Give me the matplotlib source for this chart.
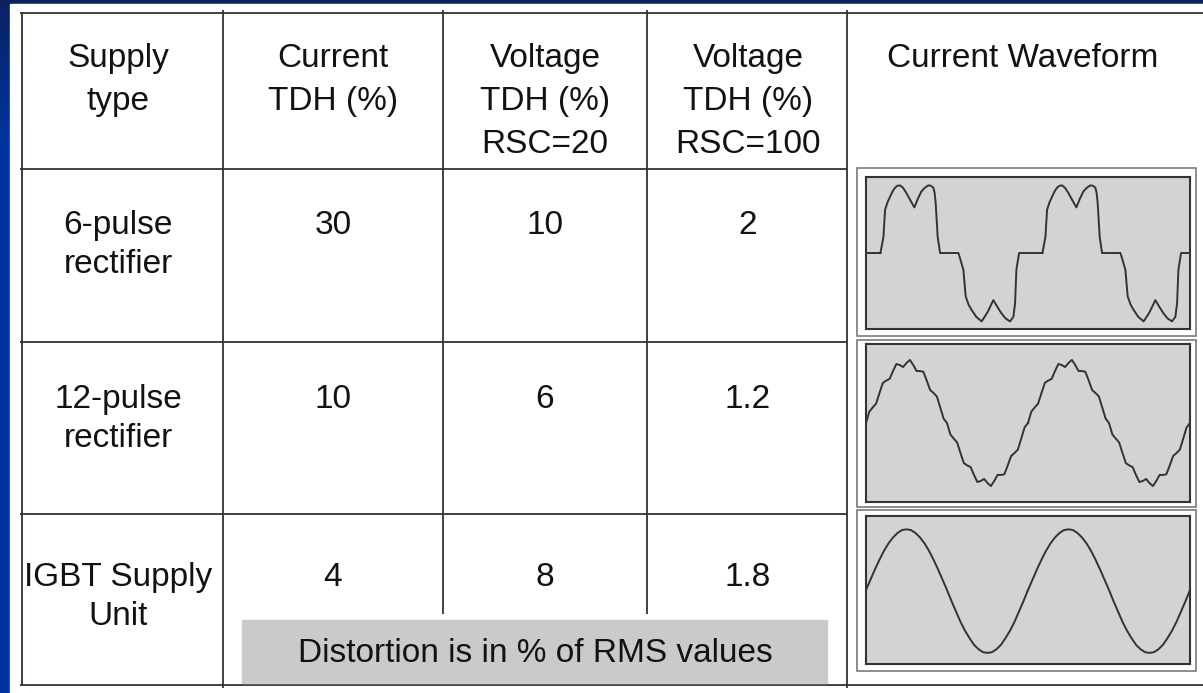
import matplotlib.pyplot as plt
import matplotlib.patches as patches
import numpy as np

plt.rcParams['font.family'] = ['Liberation Sans', 'DejaVu Sans']

W, H = 1203, 693

# table contents
headers = [["Supply", "type"],
           ["Current", "TDH (%)"],
           ["Voltage", "TDH (%)", "RSC=20"],
           ["Voltage", "TDH (%)", "RSC=100"]]
waveform_header = "Current Waveform"
supply_types = [["6-pulse", "rectifier"], ["12-pulse", "rectifier"], ["IGBT Supply", "Unit"]]
current_thd = ["30", "10", "4"]
voltage_thd_rsc20 = ["10", "6", "8"]
voltage_thd_rsc100 = ["2", "1.2", "1.8"]
note = "Distortion is in % of RMS values"

# waveforms (phase in degrees, value relative to half panel height)
six_pulse_phase = [0, 6.7, 10.4, 16, 21.5, 27, 32.6, 38, 43.7, 50,
                   57.7, 66, 75.5, 83, 91, 99, 106.6, 112, 117.7, 120.5,
                   122.8, 127.3, 132.6, 173.3, 177, 184.4, 189.5, 196, 202.8, 213,
                   225, 238, 251, 260, 268.6, 278, 288, 295.5, 299.3, 302.2,
                   308.2, 360]
six_pulse_value = [0, 0.21, 0.57, 0.67, 0.74, 0.81, 0.86, 0.885, 0.89, 0.86,
                   0.79, 0.70, 0.60, 0.71, 0.81, 0.86, 0.89, 0.885, 0.86, 0.79,
                   0.66, 0.21, 0, 0, -0.07, -0.22, -0.57, -0.68, -0.75, -0.84,
                   -0.90, -0.78, -0.62, -0.71, -0.79, -0.86, -0.90, -0.84, -0.66, -0.22,
                   0, 0]
# 7.5 degree steps
twelve_pulse_value = [0.00, 0.145, 0.197, 0.246, 0.380, 0.508, 0.537, 0.558, 0.658, 0.747,
                      0.734, 0.708, 0.760, 0.798, 0.734, 0.657, 0.658, 0.648, 0.537, 0.418,
                      0.380, 0.336, 0.197, 0.055,
                      -0.00, -0.145, -0.197, -0.246, -0.380, -0.508, -0.537, -0.558, -0.658, -0.747,
                      -0.734, -0.708, -0.760, -0.798, -0.734, -0.657, -0.658, -0.648, -0.537, -0.418,
                      -0.380, -0.336, -0.197, -0.055]
# 10 degree steps
igbt_value = [0, 0.14, 0.28, 0.41, 0.53, 0.63, 0.71, 0.77, 0.81, 0.82,
              0.81, 0.77, 0.71, 0.63, 0.53, 0.41, 0.28, 0.14,
              0, -0.15, -0.29, -0.43, -0.55, -0.65, -0.74, -0.80, -0.84, -0.85,
              -0.84, -0.80, -0.74, -0.65, -0.55, -0.43, -0.29, -0.15]

ink = '#121212'
line_c = '#333333'
fs = 24

fig = plt.figure(figsize=(W / 100, H / 100), dpi=100)
ax = fig.add_axes([0, 0, 1, 1])
ax.set_xlim(0, W)
ax.set_ylim(H, 0)
ax.axis('off')

# blue slide background, navy at the top
top = np.array([0x0b, 0x22, 0x5e]) / 255
blue = np.array([0x00, 0x33, 0xa0]) / 255
t = np.clip(np.linspace(0, 1, H) / 0.2, 0, 1)[:, None]
grad = (top * (1 - t) + blue * t)[:, None, :]
ax.imshow(grad, extent=[0, W, H, 0], aspect='auto', zorder=0)
ax.add_patch(patches.Rectangle((10, 4), W - 10, H - 4, color='white', zorder=1))


def hline(y, x0, x1):
    ax.plot([x0, x1], [y, y], color=line_c, lw=1.3, solid_capstyle='butt', zorder=3)


def vline(x, y0, y1):
    ax.plot([x, x], [y0, y1], color=line_c, lw=1.3, solid_capstyle='butt', zorder=3)


# grid
hline(13, 20, W)
hline(685, 20, W)
for y in [169, 342, 514]:
    hline(y, 20, 847)
vline(22, 12, 686)
vline(223, 10, 688)
vline(443, 10, 614)
vline(647, 10, 614)
vline(847, 10, 688)

# header
col_x = [118, 333, 545, 748]
for cx, lines in zip(col_x, headers):
    for i, s in enumerate(lines):
        ax.text(cx, 67 + 43 * i, s, ha='center', va='baseline', fontsize=fs, color=ink, zorder=4)
ax.text(1023, 67, waveform_header, ha='center', va='baseline', fontsize=fs, color=ink, zorder=4)

# body rows
row_base = [234, 408, 586]
for r in range(3):
    for i, s in enumerate(supply_types[r]):
        ax.text(col_x[0], row_base[r] + 39 * i, s, ha='center', va='baseline',
                fontsize=fs, color=ink, zorder=4)
    for cx, vals in zip(col_x[1:], [current_thd, voltage_thd_rsc20, voltage_thd_rsc100]):
        ax.text(cx, row_base[r], vals[r], ha='center', va='baseline', fontsize=fs, color=ink, zorder=4)

# note box
ax.add_patch(patches.Rectangle((242, 620), 585, 63, color='#c9cacc', zorder=5))
ax.text(535, 662, note, ha='center', va='baseline', fontsize=fs, color=ink, zorder=6)

# waveform panels
outer = [(168, 336), (340, 507), (510, 671)]
inner = [(177, 329), (344, 502), (516, 664)]
six = (np.array(six_pulse_phase), np.array(six_pulse_value))
twelve = (np.arange(len(twelve_pulse_value) + 1) * 7.5, np.append(twelve_pulse_value, twelve_pulse_value[0]))
igbt = (np.arange(len(igbt_value) + 1) * 10.0, np.append(igbt_value, igbt_value[0]))
waves = [(six, 32), (twelve, 0), (igbt, 0)]

for (o0, o1), (i0, i1), ((ph, val), off) in zip(outer, inner, waves):
    ax.add_patch(patches.Rectangle((857, o0), 339, o1 - o0, fill=False, ec='#7a7a7a', lw=1.2, zorder=3))
    wax = fig.add_axes([866 / W, 1 - i1 / H, 324 / W, (i1 - i0) / H])
    wax.set_facecolor('#d2d3d5')
    for sp in wax.spines.values():
        sp.set_color('#333333')
        sp.set_linewidth(1.5)
    wax.set_xticks([])
    wax.set_yticks([])
    wax.set_xlim(0, 720)
    wax.set_ylim(-1, 1)
    for k in range(-1, 3):
        wax.plot(ph + off + 360 * k, val, color='#333333', lw=1.4)

fig.savefig('out.png', dpi=100, facecolor=fig.get_facecolor())
